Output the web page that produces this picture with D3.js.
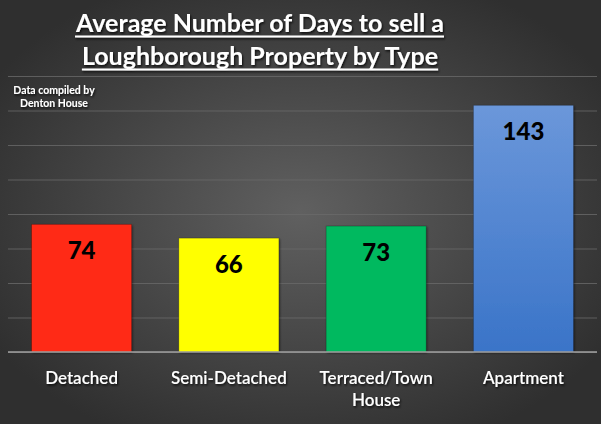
<!DOCTYPE html>
<html><head><meta charset="utf-8">
<script src="https://cdn.jsdelivr.net/npm/d3@7"></script>
<style>
html,body{margin:0;padding:0;background:#3a3a3a;}
svg{display:block;}
</style></head>
<body>
<svg id="chart" width="601" height="424"></svg>
<script>
const categories = ["Detached", "Semi-Detached", "Terraced/Town House", "Apartment"];
const categoryLines = [["Detached"], ["Semi-Detached"], ["Terraced/Town", "House"], ["Apartment"]];
const values = [74, 66, 73, 143];
const yTicks = [0, 20, 40, 60, 80, 100, 120, 140, 160];
const barColors = ["#ff2a12", "#ffff00", "#00b95e", "blue-gradient"];
const titleLines = ["Average Number of Days to sell a", "Loughborough Property by Type"];
const noteLines = ["Data compiled by", "Denton House"];

const W = 601, H = 424;
const svg = d3.select("#chart");
const defs = svg.append("defs");

const bg = defs.append("radialGradient").attr("id","bg").attr("cx","0.5").attr("cy","0.5").attr("r","0.6");
bg.append("stop").attr("offset","0").attr("stop-color","#606060");
bg.append("stop").attr("offset","1").attr("stop-color","#2f2f2f");

const bl = defs.append("linearGradient").attr("id","blue").attr("x1",0).attr("y1",0).attr("x2",0).attr("y2",1);
bl.append("stop").attr("offset","0").attr("stop-color","#6b97da");
bl.append("stop").attr("offset","1").attr("stop-color","#3a74c8");

const sh = defs.append("filter").attr("id","shadow").attr("x","-20%").attr("y","-20%").attr("width","140%").attr("height","160%");
sh.append("feDropShadow").attr("dx",1).attr("dy",1.5).attr("stdDeviation",0.8).attr("flood-color","#000").attr("flood-opacity",0.8);

const bsh = defs.append("filter").attr("id","barshadow").attr("x","-10%").attr("y","-10%").attr("width","130%").attr("height","120%");
bsh.append("feDropShadow").attr("dx",1).attr("dy",1).attr("stdDeviation",1.2).attr("flood-color","#000").attr("flood-opacity",0.5);

svg.append("rect").attr("width",W).attr("height",H).attr("fill","url(#bg)");

const x = d3.scaleBand().domain(categories).range([8, 597]).paddingInner(0.321).paddingOuter(0.16);
const y = d3.scaleLinear().domain([0, 160]).range([352, 76]);

// gridlines
const grid = svg.append("g")
  .call(d3.axisLeft(y).tickValues(yTicks).tickSize(-589).tickFormat(""))
  .attr("transform","translate(8,0)");
grid.select(".domain").remove();
grid.selectAll(".tick line").attr("stroke","#6a6a6a").attr("stroke-width",0.8);

// bars
svg.append("g").selectAll("rect").data(values).join("rect")
  .attr("x",(d,i)=>x(categories[i]))
  .attr("y",d=>y(d))
  .attr("width",x.bandwidth())
  .attr("height",d=>y(0)-y(d))
  .attr("fill",(d,i)=>barColors[i]==="blue-gradient"?"url(#blue)":barColors[i])
  .attr("stroke","rgba(0,0,0,0.25)").attr("stroke-width",0.8)
  .attr("filter","url(#barshadow)");

// x axis line
const xAxis = svg.append("g").attr("transform",`translate(0,${y(0)})`)
  .call(d3.axisBottom(x).tickSize(0).tickFormat(""));
xAxis.select(".domain").attr("d","M8,0H597").attr("stroke","#a0a0a0").attr("stroke-width",1.5);

// value labels
svg.append("g").selectAll("text").data(values).join("text")
  .attr("x",(d,i)=>x(categories[i])+x.bandwidth()/2)
  .attr("y",d=>y(d)+35)
  .attr("text-anchor","middle")
  .attr("font-family","Lato, 'Open Sans', sans-serif")
  .attr("font-weight",900).attr("font-size",24).attr("fill","#000")
  .text(d=>d);

// category labels
const cl = svg.append("g").attr("font-family","Lato, 'Open Sans', sans-serif")
  .attr("font-size",17).attr("font-weight",600).attr("fill","#fff").attr("text-anchor","middle").attr("filter","url(#shadow)");
categoryLines.forEach((lines,i)=>{
  lines.forEach((t,j)=>{
    cl.append("text").attr("x",x(categories[i])+x.bandwidth()/2).attr("y",384+j*22).text(t);
  });
});

// title
const tg = svg.append("g").attr("filter","url(#shadow)");
const titleBase = [32, 65];
titleLines.forEach((t,i)=>{
  const tx = tg.append("text").attr("x",260).attr("y",titleBase[i]).attr("text-anchor","middle")
    .attr("font-family","Lato, 'Open Sans', sans-serif").attr("font-weight","bold")
    .attr("font-size",25).attr("fill","#fff").text(t);
  const bb = tx.node().getBBox();
  tg.append("rect").attr("x",bb.x).attr("y",titleBase[i]+3.5).attr("width",bb.width).attr("height",2).attr("fill","#fff");
});

// note
const ng = svg.append("g").attr("filter","url(#shadow)");
noteLines.forEach((t,i)=>{
  ng.append("text").attr("x",54).attr("y",94+i*13).attr("text-anchor","middle")
    .attr("font-family","Lato, 'Open Sans', sans-serif").attr("font-weight","bold")
    .attr("font-size",10.5).attr("fill","#fff").text(t);
});
</script>
</body></html>
